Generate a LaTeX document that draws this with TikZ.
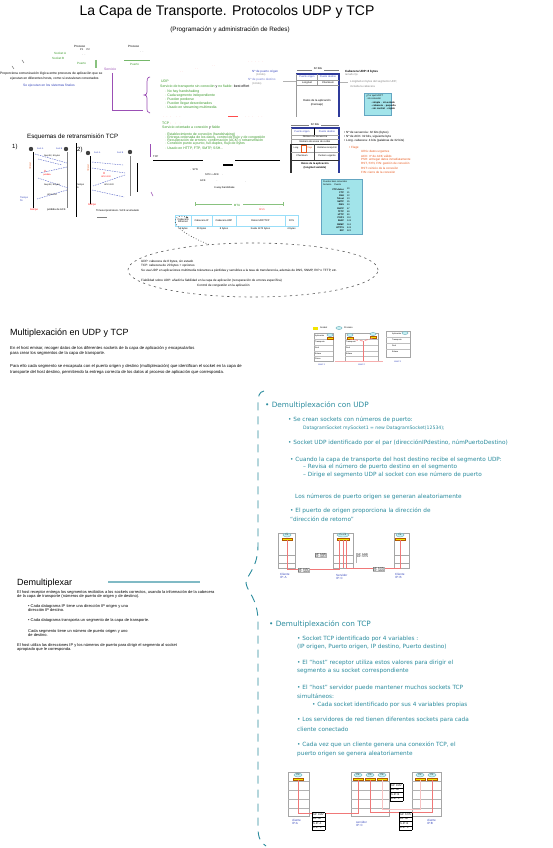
\documentclass[tikz,border=0pt]{standalone}
\usepackage{fontspec}
\setmainfont{Liberation Sans}
\newfontfamily\dvs{DejaVu Sans}
\usetikzlibrary{arrows.meta,shapes.geometric}
\definecolor{tealc}{HTML}{2B8C9E}
\definecolor{gtext}{HTML}{3A9A2A}
\definecolor{purp}{HTML}{9B4FB5}
\definecolor{blu}{HTML}{3344BB}
\definecolor{hdrblue}{HTML}{2E3A9A}
\definecolor{cyanbox}{HTML}{A2E4EA}
\definecolor{orng}{HTML}{E8581C}
\definecolor{redl}{HTML}{F07878}
\definecolor{yell}{HTML}{F2E400}
\newcommand\myfs[1]{\fontsize{#1}{#1}\selectfont}
\setlength{\tabcolsep}{1pt}
\setlength{\arrayrulewidth}{0.3pt}
\renewcommand{\arraystretch}{1.6}
\begin{document}
\begin{tikzpicture}[x=1pt,y=-1pt,
  tx/.style={inner sep=0pt, anchor=west, font=\myfs{3.5}},
  txc/.style={inner sep=0pt, anchor=center, font=\myfs{3.4}},
  grn/.style={tx, text=gtext},
  rtx/.style={tx, text=orng},
  btx/.style={tx, text=blu},
  gtx/.style={tx, text=gray},
  tl/.style={inner sep=0pt, anchor=west, text=tealc, font=\dvs\myfs{5.75}},
  tlh/.style={inner sep=0pt, anchor=west, text=tealc, font=\dvs\myfs{7.3}},
  hd/.style={inner sep=0pt, anchor=west, font=\myfs{9}},
  proc/.style={ellipse, draw=tealc!70, fill=cyanbox!60, minimum width=8pt, minimum height=4pt, inner sep=0pt, font=\myfs{2.4}},
  sock/.style={rectangle, fill=yell, draw=orange!70!black, line width=0.2pt, minimum width=10pt, minimum height=2.5pt, inner sep=0pt},
  hostbox/.style={draw=gray!70, line width=0.4pt},
  seg/.style={inner sep=0pt, font=\myfs{2.6}, fill=white},
  lbl/.style={inner sep=0pt, anchor=west, text=blu, font=\myfs{3}, align=left},
  rline/.style={draw=redl, line width=0.6pt},
  xfer/.style={draw=blu!80, line width=0.45pt, dash pattern=on 1.5pt off 1pt}
]
\useasboundingbox[fill=white] (0,0) rectangle (552,848);

% ---------------- Title ----------------
\node[inner sep=0pt, font=\myfs{14}] (title) at (227,12) {La Capa de Transporte. Protocolos UDP y TCP};
\node[inner sep=0pt, font=\myfs{6.3}] (subtitle) at (230,30) {(Programación y administración de Redes)};

% ---------------- Top-left cluster ----------------
\node[tx, font=\myfs{3}] (em) at (74,46) {Proceso};
\node[tx, font=\myfs{2.6}] (em2) at (80,50) {P1 \quad P2};
\node[tx, font=\myfs{2.6}] (em3) at (82,55) {· \ ·};
\node[grn, font=\myfs{3}] (sa) at (54,53) {Socket A};
\node[grn, font=\myfs{3}] (sb) at (52,58) {Socket B};
\node[grn, font=\myfs{3}] (pa) at (77,63) {Puerto};
\draw[gtext!60, line width=1.2pt] (96,60) -- (96,68);
\node[tx, font=\myfs{3}] (rc) at (128,46) {Proceso};
\node[tx, font=\myfs{2.6}] (rc2) at (140,52) {· \ ·};
\draw[gtext!70, line width=0.6pt] (124,60) -- (150,60);
\node[grn, font=\myfs{3}] (pb) at (130,64) {Puerto};
\draw[black!70, line width=0.4pt] (22,60) -- (24,63) (12,66) -- (14,69);
\node[tx, font=\myfs{3.3}] (l1) at (0,74) {Proporciona comunicación lógica entre procesos de aplicación que se};
\node[tx, font=\myfs{3.3}] (l2) at (10,79) {ejecutan en diferentes hosts, como si estuvieran conectados};
\node[btx, font=\myfs{3.3}] (l3) at (23,86) {Se ejecutan en los sistemas finales};
\node[tx, text=purp, font=\myfs{3.4}] (serv) at (104,69) {Servicio};
\draw[purp, line width=0.9pt] (112,73) -- (112,110) -- (143,110);
\draw[purp, line width=0.7pt] (150,77) .. controls (147,77) and (147,80) .. (147,85) -- (147,92) .. controls (147,94) and (146,95) .. (144,95) .. controls (146,95) and (147,96) .. (147,98) -- (147,106) .. controls (147,111) and (147,113) .. (150,113);

% red dotted marks
\node[rtx, font=\myfs{2.6}, text=red!70] (r1) at (180,72) {· ·};
\node[rtx, font=\myfs{2.6}, text=red!70] (r2) at (195,69) {· ·};
\node[rtx, font=\myfs{2.6}, text=red!70] (r3) at (212,66) {· ·};
\node[rtx, font=\myfs{2.6}, text=red!70] (r4) at (248,62) {·\quad ·\quad ·\quad ·\quad ·};
\node[rtx, font=\myfs{2.6}, text=red!70] (r5) at (163,117) {·\quad ·\quad ·\qquad ·\quad ·};
\node[rtx, font=\myfs{2.6}, text=red!70] (r6) at (245,117) {·\quad ·\quad ·\qquad ·\quad ·};
\draw[red!70, line width=1pt] (228,117) -- (238,117);

% green UDP list
\node[grn] (u0) at (161,81) {UDP};
\node[grn] (u1) at (160,87) {Servicio de transporte sin conexión \textcolor{black}{y} no fiable: \textcolor{black}{best effort}};
\node[grn] (u2) at (165,92) {· No hay handshaking};
\node[grn] (u3) at (165,96) {· Cada segmento independiente};
\node[grn] (u4) at (165,100) {· Pueden perderse};
\node[grn] (u5) at (165,104) {· Pueden llegar desordenados};
\node[grn] (u6) at (165,108) {· Usado en streaming multimedia};

% ---------------- UDP header ----------------
\node[btx, font=\myfs{3}] (lpo) at (252,72) {Nº de puerto origen};
\node[gtx, font=\myfs{2.6}] (lpo2) at (256,75) {(16 bits)};
\node[tx, text=blu!70, font=\myfs{3}] (lpd) at (248,80) {Nº de puerto destino};
\node[gtx, font=\myfs{2.6}] (lpd2) at (252,84) {(16 bits)};
\draw[gray!60, line width=0.4pt] (283,81) -- (297,81);
\node[txc, font=\myfs{2.8}] (b32a) at (318,69) {32 bits};
\draw[gray, line width=0.4pt] (297,70) -- (312,70) (324,70) -- (339,70);
\draw[hdrblue, line width=1.1pt] (296,74) -- (339,74) -- (339,117);
\draw[gray!80, line width=0.5pt] (296,74) -- (296,117);
\draw[gray!80, line width=0.4pt] (317,74) -- (317,85) (296,80) -- (339,80) (296,85) -- (339,85);
\node[txc, text=blu, font=\myfs{2.5}] (uh1) at (307,77) {Puerto origen};
\node[txc, text=blu, font=\myfs{2.5}] (uh2) at (328,77) {Puerto destino};
\node[txc, font=\myfs{2.5}] (uh3) at (307,83) {Longitud};
\node[txc, font=\myfs{2.5}] (uh4) at (328,83) {Checksum};
\node[txc, font=\myfs{2.8}] (uh5) at (317,101) {Datos de la aplicación};
\node[txc, font=\myfs{2.8}] (uh6) at (317,105) {(mensaje)};
\node[tx, font=\bfseries\myfs{3}] (uhr1) at (345,72) {Cabecera UDP: 8 bytes};
\node[gtx, font=\myfs{2.6}] (uhr2) at (345,75) {tamaño fijo};
\node[gtx, font=\myfs{2.8}] (uhr3) at (350,82) {Longitud en bytes del segmento UDP,};
\node[gtx, font=\myfs{2.8}] (uhr4) at (350,86) {incluida la cabecera};
\draw[gray!60, line width=0.4pt] (340,82) -- (348,82);
\node[draw=cyan!50!gray, fill=cyanbox, minimum width=27pt, minimum height=22pt, inner sep=0pt, anchor=north west] (cb1) at (364,93) {};
\node[tx, font=\myfs{2.4}] (cb1a) at (366,96) {¿Por qué UDP?};
\node[tx, font=\myfs{2.4}] (cb1b) at (366,99) {· sin conexión};
\node[tx, font=\bfseries\myfs{2.4}] (cb1c) at (371,103) {· simple \ · sin estado};
\node[tx, font=\bfseries\myfs{2.4}] (cb1d) at (371,106) {· cabecera \ · pequeña};
\node[tx, font=\bfseries\myfs{2.4}] (cb1e) at (371,109) {· sin control \ · rápido};

% ---------------- TCP list ----------------
\node[grn] (t0) at (162,123) {TCP \textcolor{red!70}{·\quad ·\quad ·}};
\node[grn] (t1) at (162,128) {Servicio orientado a conexión \textcolor{black}{y} fiable};
\node[grn] (t2) at (165,135) {· Establecimiento de conexión (handshaking)};
\node[grn] (t3) at (165,138) {· Entrega ordenada de los datos, control de flujo y de congestión};
\node[grn] (t4) at (165,141) {· Recuperación de errores: confirmación (ACK) y retransmisión};
\node[grn] (t5) at (165,144) {· Conexión punto a punto, full-duplex, flujo de bytes};
\node[grn] (t6) at (165,148) {· Usado en HTTP, FTP, SMTP, SSH...};
\draw[purp, line width=0.9pt] (150,144) -- (150,157);
\draw[purp, line width=0.5pt] (151,192) -- (153,196);

% ---------------- TCP header ----------------
\node[txc, font=\myfs{2.8}] (b32b) at (315,124) {32 bits};
\draw[gray, line width=0.4pt] (291,125) -- (309,125) (321,125) -- (339,125);
\draw[hdrblue, line width=1.1pt] (291,128) -- (339,128) -- (339,173);
\draw[gray!80, line width=0.6pt] (291,128) -- (291,144);
\draw[black!80, line width=1.2pt] (291,144) -- (291,173);
\draw[black, line width=0.5pt] (314,128) -- (314,135);
\draw[gray!70, line width=0.4pt] (291,135) -- (339,135) (291,139) -- (339,139) (291,152) -- (339,152);
\draw[black!80, line width=0.9pt] (291,144) -- (339,144) (291,160) -- (339,160);
\draw[black!70, line width=0.5pt] (314,144) -- (314,160);
\draw[orng, line width=0.5pt] (301,145) rectangle (306,152);
\node[txc, text=blu, font=\myfs{2.5}] (th1) at (302,132) {Puerto origen};
\node[txc, text=blu, font=\myfs{2.5}] (th2) at (327,132) {Puerto destino};
\node[txc, font=\myfs{2.5}] (th3) at (315,137) {Número de secuencia};
\node[txc, font=\myfs{2.5}] (th4) at (315,141.5) {Número de acuse de recibo};
\node[txc, font=\myfs{2.2}] (th5) at (296,148) {Long};
\node[txc, text=orng, font=\myfs{2.2}] (th6) at (310,148) {flags};
\node[txc, font=\myfs{2.4}] (th7) at (327,148) {Ventana recepción};
\node[txc, font=\myfs{2.4}] (th8) at (302,156) {Checksum};
\node[txc, font=\myfs{2.4}] (th9) at (327,156) {Puntero urgente};
\node[txc, font=\bfseries\myfs{2.6}] (th10) at (315,164) {Datos de la aplicación};
\node[txc, font=\bfseries\myfs{2.6}] (th11) at (315,168) {(longitud variable)};
\node[tx, font=\myfs{3}] (thr1) at (344,133) {• Nº de secuencia: 32 bits (bytes)};
\node[tx, font=\myfs{3}] (thr2) at (344,137) {• Nº de ACK: 32 bits, siguiente byte};
\node[tx, font=\myfs{3}] (thr3) at (344,141) {• Long. cabecera: 4 bits (palabras de 32 bits)};
\node[rtx, font=\myfs{3}] (tho0) at (349,148) {• Flags:};
\node[rtx, font=\myfs{3}] (tho1) at (361,152) {URG: datos urgentes};
\node[rtx, font=\myfs{3}] (tho2) at (361,156) {ACK: nº de ACK válido};
\node[rtx, font=\myfs{3}] (tho3) at (361,160) {PSH: entregar datos inmediatamente};
\node[rtx, font=\myfs{3}] (tho4) at (361,164) {RST, SYN, FIN: gestión de conexión};
\node[rtx, font=\myfs{3}] (tho5) at (361,168) {RST: reinicio de la conexión};
\node[rtx, font=\myfs{3}] (tho6) at (361,172) {FIN: cierre de la conexión};

% ---------------- Retransmission schemes ----------------
\node[tx, font=\myfs{6.2}] (esq) at (27,137) {Esquemas de retransmisión TCP};
\node[tx, font=\myfs{6}] (n1) at (12,147) {1)};
\node[tx, font=\myfs{6}] (n2) at (77,150) {2)};
\fill[black!75] (31,149) circle (2.2pt) (66,149) circle (2.2pt) (88,153) circle (2.2pt) (130,152) circle (2.2pt);
\node[btx, font=\myfs{2.2}] (e1) at (37,149) {host A};
\node[btx, font=\myfs{2.2}] (e2) at (56,149) {host B};
\node[btx, font=\myfs{2.2}] (e3) at (94,153) {host A};
\node[btx, font=\myfs{2.2}] (e4) at (117,153) {host B};
\draw[black, line width=0.6pt] (33,152) -- (33,208) (90,156) -- (90,204);
\draw[gray, line width=0.6pt] (67,152) -- (67,208) (130,156) -- (130,196);
\draw[xfer] (35,154) -- (67,163);
\draw[xfer] (38,159) -- (62,165);
\draw[xfer] (67,167) -- (40,173);
\draw[xfer] (38,178) -- (68,188);
\draw[xfer] (67,190) -- (37,199);
\node[txc, font=\myfs{2.2}] (s1) at (52,156) {Seq=92, 8 bytes};
\node[txc, font=\myfs{2.2}] (s2) at (52,185) {Seq=92, 8 bytes};
\node[txc, font=\myfs{2.2}] (s3) at (52,195) {ACK=100};
\node[txc, text=red, font=\myfs{3}] (x1) at (45,171) {X};
\node[txc, text=red, font=\myfs{2.2}] (x1b) at (47,175) {pérdida};
\node[txc, text=orng, font=\myfs{2.2}, rotate=90] (to1) at (30,166) {timeout};
\node[lbl, font=\myfs{2.4}] (to1b) at (20,199) {Tiempo\\fin};
\node[tx, text=red, font=\myfs{2.6}] (bl1) at (30,210) {tiempo};
\node[tx, font=\myfs{2.6}] (bl1b) at (47,210) {pérdida de ACK};
\draw[xfer] (92,162) -- (123,165);
\draw[xfer] (92,168) -- (125,173);
\draw[xfer] (125,175) -- (93,186);
\draw[xfer] (92,190) -- (124,197);
\node[txc, text=red, font=\myfs{3}] (x2) at (104,173) {X};
\node[txc, text=red, font=\myfs{2.2}] (x2b) at (106,177) {ACK=100};
\node[txc, font=\myfs{2.2}] (x2c) at (109,185) {ACK=120};
\node[txc, text=orng, font=\myfs{2.2}, rotate=90] (to2) at (88,168) {timeout};
\node[lbl, text=black, font=\myfs{2.4}] (to2b) at (76,186) {Tiempo\\fin};
\node[tx, text=red, font=\myfs{2.6}] (bl2) at (88,205) {tiempo};
\node[tx, font=\myfs{2.6}] (bl2b) at (96,211) {Timeout prematuro / ACK acumulado};
\draw[black, line width=0.9pt] (76,143) -- (76,217);
\draw[black, line width=0.9pt] (137,163) -- (137,192);
\draw[gray, line width=0.4pt] (97,217) -- (107,217);

% ---------------- Handshake lines ----------------
\draw[black, line width=0.7pt] (153,160) -- (203,160) (235,160) -- (280,160);
\draw[black, line width=1.1pt] (223,165) -- (233,165);
\node[tx, font=\myfs{2.6}] (hs0) at (153,157) {TCP};
\node[tx, font=\myfs{2.6}] (hs1) at (190,170) {· \ SYN};
\node[tx, font=\myfs{2.6}] (hs2) at (205,175) {SYN + ACK \quad ·};
\node[tx, font=\myfs{2.6}] (hs3) at (200,181) {ACK \qquad\qquad ·};
\node[tx, font=\myfs{2.6}] (hs4) at (214,188) {3-way handshake};
\node[tx, font=\myfs{2.6}] (hs5) at (245,182) {·};

% ---------------- Cyan port table ----------------
\node[draw=cyan!50!gray, fill=cyanbox, minimum width=41pt, minimum height=55pt, inner sep=0pt, anchor=north west] (cb2) at (321,179) {};
\node[tx, font=\myfs{2.3}] (cbt1) at (323,182) {Puertos bien conocidos};
\node[tx, font=\myfs{2.3}] (cbt2) at (323,185) {Servicio \quad Puerto};
\foreach \s/\p [count=\i] in {FTP-datos/20, FTP/21, SSH/22, Telnet/23, SMTP/25, DNS/53, DHCP/67, TFTP/69, HTTP/80, POP3/110, IMAP/143, SNMP/161, HTTPS/443, RIP/520}{
  \node[inner sep=0pt, anchor=east, font=\bfseries\myfs{2.3}] (cs\i) at (344,186+3.2*\i) {\s};
  \node[tx, font=\myfs{2.3}] (cp\i) at (347,186+3.2*\i) {\p};
}

% ---------------- Encapsulation table ----------------
\draw[gtext!60, line width=0.7pt] (195,204) -- (232,204) (243,204) -- (283,204);
\draw[gtext!60, line width=0.5pt] (195,202) -- (195,206) (283,202) -- (283,206);
\node[txc, text=gtext, font=\myfs{3}] (mtu) at (237,205) {MTU};
\node[txc, text=red!70, font=\myfs{2.6}] (mss) at (262,210) {MSS};
\node[txc, text=red!70, font=\myfs{2.6}] (mss2) at (262,207) {· \ ·};
\node[txc, text=red!70, font=\myfs{2.6}] (mss3) at (240,209) {·};
\node[txc, text=red!70, font=\myfs{2.6}] (mss4) at (280,208) {·};
\draw[cyan!40, line width=0.6pt] (175,215) rectangle (298,226);
\draw[cyan!40, line width=0.6pt] (191,215) -- (191,226) (212,215) -- (212,226) (236,215) -- (236,226) (285,215) -- (285,226);
\node[txc, font=\myfs{2.5}, align=center] (c1) at (183,220.5) {Cabecera\\Ethernet};
\node[txc, font=\myfs{2.5}] (c2) at (201.5,220.5) {Cabecera IP};
\node[txc, font=\myfs{2.5}] (c3) at (224,220.5) {Cabecera UDP};
\node[txc, font=\myfs{2.5}] (c4) at (260.5,220.5) {Datos UDP/TCP};
\node[txc, font=\myfs{2.5}] (c5) at (291.5,220.5) {FCS};
\node[txc, font=\myfs{2.5}] (v1) at (183,229) {14 bytes};
\node[txc, font=\myfs{2.5}] (v2) at (201.5,229) {20 bytes};
\node[txc, font=\myfs{2.5}] (v3) at (224,229) {8 bytes};
\node[txc, font=\myfs{2.5}] (v4) at (260.5,229) {hasta 1472 bytes};
\node[txc, font=\myfs{2.5}] (v5) at (291.5,229) {4 bytes};

% ---------------- Dashed ellipse ----------------
\node[ellipse, draw=black!65, dash pattern=on 2.2pt off 3.5pt, line width=0.6pt, minimum width=250pt, minimum height=54pt, inner sep=0pt] (ell) at (253,270) {};
\draw[black!70, dotted, line width=0.7pt, -{Stealth[length=3pt]}] (ell.150) .. controls (160,225) and (175,212) .. (c1.north east);
\node[tx, font=\myfs{3.1}] (el1) at (141,262) {UDP: cabecera de 8 bytes, sin estado};
\node[tx, font=\myfs{3.1}] (el2) at (141,266) {TCP: cabecera de 20 bytes + opciones};
\node[tx, font=\myfs{3.1}] (el3) at (141,271) {Se usa UDP en aplicaciones multimedia tolerantes a pérdidas y sensibles a la tasa de transferencia, además de DNS, SNMP, RIP o TFTP, etc.};
\node[tx, font=\myfs{3.1}] (el4) at (141,281) {Fiabilidad sobre UDP: añadir la fiabilidad en la capa de aplicación (recuperación de errores específica)};
\node[tx, font=\myfs{3.1}] (el5) at (197,286) {Control de congestión en la aplicación};

% ---------------- Multiplexación ----------------
\node[hd] (mux) at (10,333) {Multiplexación en UDP y TCP};
\node[tx, font=\myfs{4.2}] (m1) at (10,348) {En el host emisor, recoger datos de los diferentes sockets de la capa de aplicación y encapsularlos};
\node[tx, font=\myfs{4.2}] (m2) at (10,353) {para crear los segmentos de la capa de transporte.};
\node[tx, font=\myfs{4.2}] (m3) at (10,366) {Para ello cada segmento se encapsula con el puerto origen y destino (multiplexación) que identifican el socket en la capa de};
\node[tx, font=\myfs{4.2}] (m4) at (10,372) {transporte del host destino, permitiendo la entrega correcta de los datos al proceso de aplicación que corresponda.};

% small mux diagram
\fill[yell] (313,327) rectangle (318,329.5);
\node[tx, font=\myfs{2.3}] (lg1) at (320,328) {Socket};
\node[proc, minimum width=6pt, minimum height=3pt] (lg2) at (339,328) {};
\node[tx, font=\myfs{2.3}] (lg3) at (344,328) {Proceso};
\draw[hostbox] (314,333) rectangle (333,361) (345,333) rectangle (378,361) (386,331) rectangle (410,357);
\draw[gray!50, line width=0.3pt] (314,339) -- (333,339) (314,345) -- (333,345) (314,351) -- (333,351) (314,356) -- (333,356)
  (345,339) -- (378,339) (345,345) -- (378,345) (345,351) -- (378,351) (345,356) -- (378,356)
  (386,337) -- (410,337) (386,343) -- (410,343) (386,349) -- (410,349);
\node[tx, font=\myfs{2}] (h1a) at (315,336) {Aplicación};
\node[tx, font=\myfs{2}] (h1b) at (315,342) {Transporte};
\node[tx, font=\myfs{2}] (h1c) at (315,348) {Red};
\node[tx, font=\myfs{2}] (h1d) at (315,353.5) {Enlace};
\node[tx, font=\myfs{2}] (h1e) at (315,358.5) {Física};
\node[tx, font=\myfs{2}] (h2b) at (346,342) {Transporte};
\node[tx, font=\myfs{2}] (h2c) at (346,348) {Red};
\node[tx, font=\myfs{2}] (h2d) at (346,353.5) {Enlace};
\node[tx, font=\myfs{2}] (h3a) at (392,334) {Aplicación};
\node[tx, font=\myfs{2}] (h3b) at (392,340) {Transporte};
\node[tx, font=\myfs{2}] (h3c) at (392,346) {Red};
\node[tx, font=\myfs{2}] (h3d) at (392,352) {Enlace};
\node[proc, minimum width=6pt, minimum height=3pt] (mp1) at (330,335) {};
\node[sock, minimum width=6pt, minimum height=2pt] (ms1) at (330,338) {};
\node[proc, minimum width=6pt, minimum height=3pt] (mp2) at (350,335) {};
\node[sock, minimum width=6pt, minimum height=2pt] (ms2) at (350,338) {};
\node[proc, minimum width=6pt, minimum height=3pt] (mp3) at (373,334) {};
\node[sock, minimum width=6pt, minimum height=2pt] (ms3) at (373,337) {};
\node[proc, minimum width=6pt, minimum height=3pt] (mp4) at (405,333) {};
\draw[rline, densely dashed] (ms2.south) -- (363,341) -- (ms3.south);
\draw[rline] (363,341) -- (363,361);
\draw[rline, draw=redl!60] (335,361) -- (383,361);
\node[lbl, font=\myfs{2.3}] (hl1) at (318,365) {Host 1};
\node[lbl, font=\myfs{2.3}] (hl2) at (358,365) {Host 2};
\node[lbl, font=\myfs{2.3}] (hl3) at (394,362) {Host 3};

% ---------------- Demultiplexar ----------------
\node[hd] (demux) at (17,583) {Demultiplexar};
\draw[tealc!60, line width=1.6pt] (108,582) -- (200,582);
\node[tx, font=\myfs{4}] (d1) at (17,592) {El host receptor entrega los segmentos recibidos a los sockets correctos, usando la información de la cabecera};
\node[tx, font=\myfs{4}] (d2) at (17,596) {de la capa de transporte (números de puerto de origen y de destino).};
\node[tx, font=\myfs{4}] (d3) at (28,606) {• Cada datagrama IP tiene una dirección IP origen y una};
\node[tx, font=\myfs{4}] (d4) at (28,610) {dirección IP destino.};
\node[tx, font=\myfs{4}] (d5) at (28,620) {• Cada datagrama transporta un segmento de la capa de transporte.};
\node[tx, font=\myfs{4}] (d6) at (28,631) {Cada segmento tiene un número de puerto origen y uno};
\node[tx, font=\myfs{4}] (d7) at (28,635) {de destino.};
\node[tx, font=\myfs{4}] (d8) at (17,645) {El host utiliza las direcciones IP y los números de puerto para dirigir el segmento al socket};
\node[tx, font=\myfs{4}] (d9) at (17,649) {apropiado que le corresponda.};

% teal brace connector
\draw[tealc, line width=0.9pt, dash pattern=on 8pt off 6pt]
  (264,391) .. controls (259,392) and (258,396) .. (258,404) -- (258,545)
  .. controls (258,568) and (247,574) .. (246,583)
  .. controls (247,592) and (258,598) .. (258,622) -- (258,828)
  .. controls (258,838) and (261,843) .. (266,846);

% ---------------- Demultiplexación con UDP ----------------
\node[tlh] (udph) at (265,405) {• Demultiplexación con UDP};
\node[tl] (ud1) at (288,420) {• Se crean sockets con números de puerto:};
\node[tl, font=\dvs\myfs{4.6}] (ud2) at (303,428) {DatagramSocket mySocket1 = new DatagramSocket(12534);};
\node[tl] (ud3) at (288,443) {• Socket UDP identificado por el par (direcciónIPdestino, númPuertoDestino)};
\node[tl] (ud4) at (290,460) {• Cuando la capa de transporte del host destino recibe el segmento UDP:};
\node[tl] (ud5) at (303,467) {– Revisa el número de puerto destino en el segmento};
\node[tl] (ud6) at (303,475) {– Dirige el segmento UDP al socket con ese número de puerto};
\node[tl] (ud7) at (295,497) {Los números de puerto origen se generan aleatoriamente};
\node[tl] (ud8) at (290,511) {• El puerto de origen proporciona la dirección de};
\node[tl] (ud9) at (290,519) {“dirección de retorno”};

% UDP demux figure
\draw[hostbox] (278,533) rectangle (295,568) (333,533) rectangle (353,568) (394,533) rectangle (409,568);
\draw[gray!70, line width=0.5pt] (278,555) -- (295,555) (278,563) -- (295,563) (333,555) -- (353,555) (333,563) -- (353,563) (394,555) -- (409,555) (394,563) -- (409,563);
\node[proc] (up1) at (287,535) {P1};
\node[sock] (us1) at (287,539) {};
\node[proc, minimum width=12pt] (up2) at (343,535) {P2 P3};
\node[sock, minimum width=12pt] (us2) at (343,539) {};
\node[proc] (up3) at (400,535) {P4};
\node[sock] (us3) at (400,539) {};
\draw[rline] (us1.south) -- ++(0,29) -| (339.5,540.25);
\draw[rline] (343,540.25) -- (343,568);
\draw[rline] (346.5,540.25) -- (346.5,568) -- (400,568) -- (us3.south);
\node[seg, draw=gray!60, align=left, anchor=north west] (sg1) at (315,553) {SP: 6428\\[-0.6pt]DP: 9157};
\node[seg, draw=gray!60, align=left, anchor=north west] (sg2) at (298,568) {SP: 9157\\[-0.6pt]DP: 6428};
\node[seg, align=left, anchor=north west] (sg3) at (357,553) {SP: 6428\\[-0.6pt]DP: 5775};
\draw[gray!60, line width=0.4pt] (356,553) -- (356,563);
\node[seg, draw=gray!60, align=left, anchor=north west] (sg4) at (373,567) {SP: 5775\\[-0.6pt]DP: 6428};
\node[lbl] (ul1) at (280,576) {Cliente\\[-0.4pt]IP: A};
\node[lbl] (ul2) at (336,577) {Servidor\\[-0.4pt]IP: C};
\node[lbl] (ul3) at (395,576) {Cliente\\[-0.4pt]IP: B};

% ---------------- Demultiplexación con TCP ----------------
\node[tlh] (tcph) at (269,624) {• Demultiplexación con TCP};
\node[tl] (tc1) at (297,639) {• Socket TCP identificado por 4 variables :};
\node[tl] (tc2) at (297,647) {(IP origen, Puerto origen, IP destino, Puerto destino)};
\node[tl] (tc3) at (297,663) {• El “host” receptor utiliza estos valores para dirigir el};
\node[tl] (tc4) at (297,671) {segmento a su socket correspondiente};
\node[tl] (tc5) at (297,688) {• El “host” servidor puede mantener muchos sockets TCP};
\node[tl] (tc6) at (297,696) {simultáneos:};
\node[tl] (tc7) at (312,705) {• Cada socket identificado por sus 4 variables propias};
\node[tl] (tc8) at (297,720) {• Los servidores de red tienen diferentes sockets para cada};
\node[tl] (tc9) at (297,729) {cliente conectado};
\node[tl] (tc10) at (297,745) {• Cada vez que un cliente genera una conexión TCP, el};
\node[tl] (tc11) at (297,754) {puerto origen se genera aleatoriamente};

% TCP demux figure
\draw[hostbox] (288,772) rectangle (309,816) (351,772) rectangle (389,816) (412,772) rectangle (441,816);
\foreach \yy in {781,790,799,808}{
  \draw[gray!60, line width=0.4pt] (288,\yy) -- (309,\yy) (351,\yy) -- (389,\yy) (412,\yy) -- (441,\yy);
}
\node[proc] (tp1) at (298,775) {P3};
\node[sock] (ts1) at (298,779) {};
\node[proc] (tp2) at (358,775) {P4};
\node[sock] (ts2) at (358,779) {};
\node[proc] (tp3) at (370,775) {P5};
\node[sock] (ts3) at (370,779) {};
\node[proc] (tp4) at (382,775) {P6};
\node[sock] (ts4) at (382,779) {};
\node[proc] (tp5) at (420,775) {P2};
\node[sock] (ts5) at (420,779) {};
\node[proc] (tp6) at (432,775) {P1};
\node[sock] (ts6) at (432,779) {};
\draw[rline, draw=redl!45] (ts4.south) -- ++(0,29) -| (ts5.south);
\draw[rline] (ts1.south) -- ++(0,33) -| (ts2.south);
\draw[rline] (ts3.south) -- ++(0,32) -| (ts6.south);
\node[seg, anchor=north west] (tb1) at (390,783) {\begin{tabular}{|l|}\hline SP: 9157\\\hline DP: 80\\\hline S-IP: B\\\hline D-IP: C\\\hline\end{tabular}};
\node[seg, anchor=north west] (tb2) at (312,812) {\begin{tabular}{|l|}\hline SP: 9157\\\hline DP: 80\\\hline S-IP: A\\\hline D-IP: C\\\hline\end{tabular}};
\node[seg, anchor=north west] (tb3) at (399,812) {\begin{tabular}{|l|}\hline SP: 5775\\\hline DP: 80\\\hline S-IP: B\\\hline D-IP: C\\\hline\end{tabular}};
\node[lbl] (tl1) at (292,822) {cliente\\[-0.4pt]IP:A};
\node[lbl] (tl2) at (356,824) {servidor\\[-0.4pt]IP: C};
\node[lbl] (tl3) at (427,822) {cliente\\[-0.4pt]IP:B};

\end{tikzpicture}
\end{document}
